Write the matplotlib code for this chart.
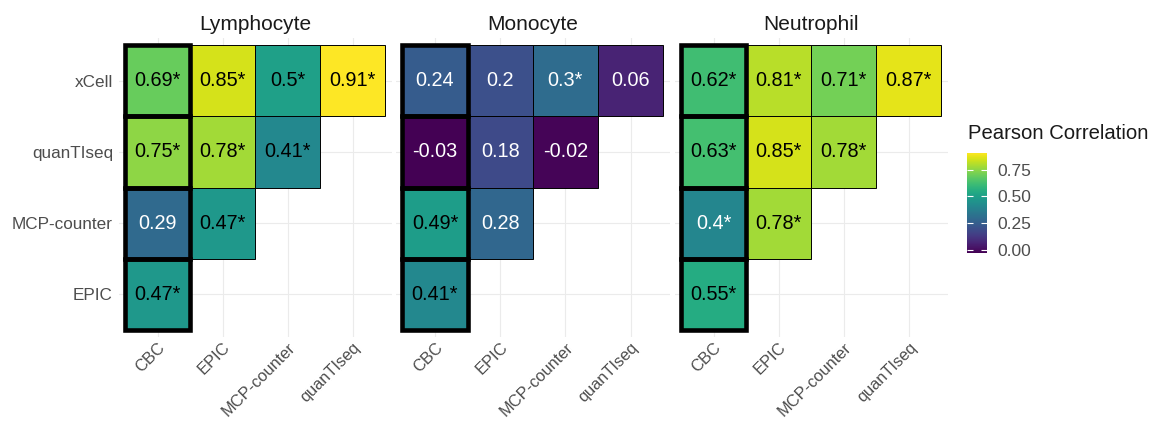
import numpy as np
import matplotlib.pyplot as plt
from matplotlib.colors import Normalize
from matplotlib.patches import Rectangle
from matplotlib.cm import ScalarMappable

plt.rcParams['font.family'] = ['Liberation Sans', 'DejaVu Sans']

nan = np.nan

# ─── data ─────────────────────────────────────────────────────────────────────
cell_types = ["Lymphocyte", "Monocyte", "Neutrophil"]
methods_x = ["CBC", "EPIC", "MCP-counter", "quanTIseq"]
methods_y = ["EPIC", "MCP-counter", "quanTIseq", "xCell"]   # bottom -> top

# rows follow methods_y, columns follow methods_x
lympho_r = [[0.47, nan, nan, nan],
            [0.29, 0.47, nan, nan],
            [0.75, 0.78, 0.41, nan],
            [0.69, 0.85, 0.50, 0.91]]
lympho_sig = [[1, 0, 0, 0],
              [0, 1, 0, 0],
              [1, 1, 1, 0],
              [1, 1, 1, 1]]

mono_r = [[0.41, nan, nan, nan],
          [0.49, 0.28, nan, nan],
          [-0.03, 0.18, -0.02, nan],
          [0.24, 0.20, 0.30, 0.06]]
mono_sig = [[1, 0, 0, 0],
            [1, 0, 0, 0],
            [0, 0, 0, 0],
            [0, 0, 1, 0]]

neutro_r = [[0.55, nan, nan, nan],
            [0.40, 0.78, nan, nan],
            [0.63, 0.85, 0.78, nan],
            [0.62, 0.81, 0.71, 0.87]]
neutro_sig = [[1, 0, 0, 0],
              [1, 1, 0, 0],
              [1, 1, 1, 0],
              [1, 1, 1, 1]]

panels = [(lympho_r, lympho_sig), (mono_r, mono_sig), (neutro_r, neutro_sig)]
cbar_ticks = [0.0, 0.25, 0.50, 0.75]

allvals = np.concatenate([np.ravel(p[0]) for p in panels])
norm = Normalize(np.nanmin(allvals), np.nanmax(allvals))
cmap = plt.get_cmap("viridis")

W, H = 1164, 422
fig = plt.figure(figsize=(W / 100, H / 100), dpi=100)

def px_axes(x0, y0, x1, y1):
    return fig.add_axes([x0 / W, (H - y1) / H, (x1 - x0) / W, (y1 - y0) / H])

panel_x = [(118.5, 391.5), (395.8, 669.8), (674.5, 948.0)]
py0, py1 = 37.9, 337.1

for k, (ct, (r, sig)) in enumerate(zip(cell_types, panels)):
    x0, x1 = panel_x[k]
    ax = px_axes(x0, py0, x1, py1)
    r = np.array(r, dtype=float)
    for i in range(len(methods_y)):
        for j in range(len(methods_x)):
            v = r[i, j]
            if np.isnan(v):
                continue
            ax.add_patch(Rectangle((j - 0.5, i - 0.5), 1, 1, facecolor=cmap(norm(v)),
                                   edgecolor="black", linewidth=0.7, zorder=2))
            lab = f"{v:g}" + ("*" if sig[i][j] else "")
            ax.text(j, i, lab, ha="center", va="center", fontsize=14.3,
                    color="white" if v <= 0.40 else "black", zorder=4)
    # thick outline on the CBC column
    for i in range(len(methods_y)):
        if not np.isnan(r[i, 0]):
            ax.add_patch(Rectangle((-0.5, i - 0.5), 1, 1, facecolor="none",
                                   edgecolor="black", linewidth=3.3, zorder=3))

    ax.set_xlim(-0.6, len(methods_x) - 0.4)
    ax.set_ylim(-0.6, len(methods_y) - 0.4)
    ax.set_xticks(range(len(methods_x)))
    ax.set_xticklabels(methods_x, rotation=45, ha="right", va="top",
                       rotation_mode="anchor", fontsize=11.8, color="#4D4D4D")
    ax.set_yticks(range(len(methods_y)))
    if k == 0:
        ax.set_yticklabels(methods_y, fontsize=12.3, color="#4D4D4D")
    else:
        ax.set_yticklabels([])
    ax.tick_params(axis="y", length=0, pad=4)
    ax.tick_params(axis="x", length=0, pad=2)
    ax.grid(True, color="#EBEBEB", linewidth=0.8, zorder=0)
    ax.set_axisbelow(True)
    for s in ax.spines.values():
        s.set_visible(False)
    fig.text((x0 + x1) / 2 / W, (H - 30) / H, ct, ha="center", va="baseline",
             fontsize=15, color="#1A1A1A")

# colour bar
cax = px_axes(966.7, 152.7, 986.7, 252.7)
cb = fig.colorbar(ScalarMappable(norm=norm, cmap=cmap), cax=cax, ticks=cbar_ticks)
cb.outline.set_visible(False)
cb.ax.set_yticklabels([f"{t:.2f}" for t in cbar_ticks], fontsize=12.5, color="#4D4D4D")
cb.ax.tick_params(which="both", direction="in", color="white", length=4,
                  width=0.8, left=True, right=True, pad=8)
fig.text(968 / W, (H - 139.3) / H, "Pearson Correlation", ha="left", va="baseline",
         fontsize=14.6, color="#1A1A1A")

fig.savefig("out.png", dpi=100)
